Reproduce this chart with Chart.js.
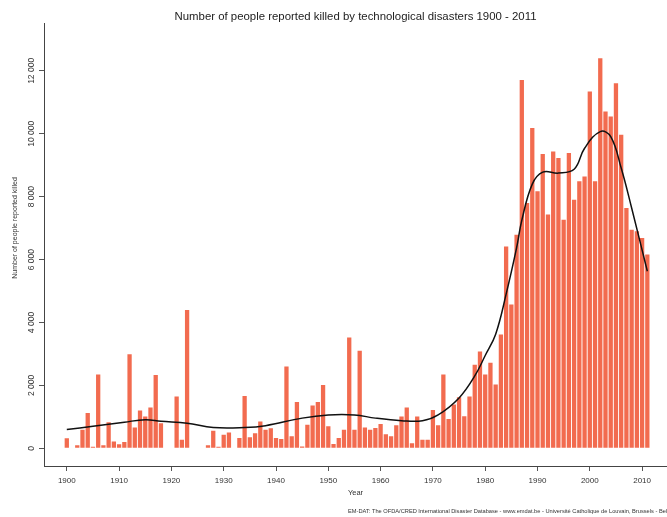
<!DOCTYPE html>
<html>
<head>
<meta charset="utf-8">
<script src="https://cdn.jsdelivr.net/npm/chart.js@4.4.0/dist/chart.umd.min.js"></script>
<style>
  html, body { margin: 0; padding: 0; background: #fff; }
  canvas { display: block; }
</style>
</head>
<body>
<canvas id="chart" width="667" height="517"></canvas>
<script>
// People reported killed by technological disasters, one value per year from 1900
const deaths = [
  320, 0, 100, 590, 1120, 50, 2350, 100, 830, 220,          // 1900s
  130, 200, 2990, 660, 1200, 1010, 1300, 2330, 800, 0,      // 1910s
  0, 1650, 270, 4400, 0, 0, 0, 100, 560, 50,                // 1920s
  430, 500, 0, 325, 1665, 350, 480, 850, 590, 640,          // 1930s
  330, 300, 2600, 380, 1470, 60, 750, 1360, 1470, 2015,     // 1940s
  700, 135, 325, 590, 3520, 590, 3100, 660, 590, 650,       // 1950s
  770, 450, 380, 730, 1010, 1300, 165, 1010, 270, 270,      // 1960s
  1220, 730, 2350, 930, 1390, 1620, 1020, 1650, 2660, 3080, // 1970s
  2350, 2720, 2030, 3620, 6420, 4570, 6790, 11710, 7800, 10180, // 1980s
  8170, 9360, 7430, 9440, 9230, 7270, 9390, 7900, 8490, 8640,   // 1990s
  11340, 8490, 12400, 10710, 10550, 11610, 9970, 7640, 6950, 6900, // 2000s
  6690, 6160                                                // 2010-2011
];
const firstYear = 1900;
const years = deaths.map((_, i) => firstYear + i);

// Smoothed trend through the yearly totals
const trendYears  = [1900, 1905, 1911, 1915, 1918, 1923, 1928, 1934, 1938, 1945, 1950, 1955, 1959, 1964, 1968, 1971, 1975, 1978, 1980, 1982, 1984, 1986, 1987, 1989, 1991, 1994, 1997, 1999, 2002, 2004, 2006, 2008, 2011];
const trendValues = [ 600,  700,  830,  910,  860,  800,  660,  660,  720,  960, 1060, 1060,  960,  880,  876, 1060, 1600, 2300, 2950, 3630, 4900, 6370, 7250, 8400, 8780, 8750, 8870, 9540, 10070, 9910, 8910, 7640, 5630];

const xTicks = [1900, 1910, 1920, 1930, 1940, 1950, 1960, 1970, 1980, 1990, 2000, 2010];
const yTicks = [0, 2000, 4000, 6000, 8000, 10000, 12000];
const yTickLabels = ['0', '2 000', '4 000', '6 000', '8 000', '10 000', '12 000'];

const titleText = 'Number of people reported killed by technological disasters 1900 - 2011';
const yTitle = 'Number of people reported killed';
const xTitle = 'Year';
const sourceText = 'EM-DAT: The OFDA/CRED International Disaster Database - www.emdat.be - Université Catholique de Louvain, Brussels - Belgium';

const FONT = '"Liberation Sans", Arial, Helvetica, sans-serif';

// Rotated y tick labels, axis titles and source line
const axisText = {
  id: 'axisText',
  afterDraw(chart) {
    const { ctx, chartArea, scales: { y } } = chart;
    ctx.save();
    ctx.fillStyle = '#333';
    ctx.textAlign = 'center';
    ctx.textBaseline = 'middle';
    ctx.font = `8.5px ${FONT}`;
    yTicks.forEach((v, i) => {
      ctx.save();
      ctx.translate(32, y.getPixelForValue(v));
      ctx.rotate(-Math.PI / 2);
      ctx.fillText(yTickLabels[i], 0, 0);
      ctx.restore();
    });
    ctx.font = `7px ${FONT}`;
    ctx.save();
    ctx.translate(15, 228);
    ctx.rotate(-Math.PI / 2);
    ctx.fillText(yTitle, 0, 0);
    ctx.restore();
    ctx.font = `7.5px ${FONT}`;
    ctx.fillText(xTitle, (chartArea.left + chartArea.right) / 2, 493);
    ctx.font = `5.7px ${FONT}`;
    ctx.textAlign = 'left';
    ctx.fillText(sourceText, 348, 511);
    ctx.restore();
  }
};

new Chart(document.getElementById('chart'), {
  type: 'bar',
  data: {
    datasets: [
      {
        type: 'line',
        data: trendYears.map((x, i) => ({ x, y: trendValues[i] })),
        borderColor: '#111',
        borderWidth: 1.5,
        pointRadius: 0,
        tension: 0.4,
        fill: false,
        order: 0
      },
      {
        type: 'bar',
        data: years.map((x, i) => ({ x, y: deaths[i] })),
        backgroundColor: '#F26B4F',
        borderWidth: 0,
        barPercentage: 0.82,
        categoryPercentage: 1,
        order: 1
      }
    ]
  },
  options: {
    responsive: false,
    animation: false,
    layout: { padding: 0 },
    plugins: {
      legend: { display: false },
      tooltip: { enabled: false },
      title: {
        display: true,
        text: titleText,
        fullSize: false,
        color: '#222',
        font: { family: FONT, size: 11.4, weight: 'normal' },
        padding: { top: 10, bottom: 0 }
      }
    },
    scales: {
      x: {
        type: 'linear',
        min: 1895.64,
        max: 2014.76,
        offset: false,
        afterBuildTicks: s => { s.ticks = xTicks.map(v => ({ value: v })); },
        afterFit: s => { s.height = 51; },
        grid: { offset: false, drawOnChartArea: false, drawTicks: true, tickLength: 5, color: '#555' },
        border: { display: true, color: '#444', width: 1 },
        ticks: {
          font: { family: FONT, size: 8 },
          color: '#333',
          padding: 5,
          maxRotation: 0,
          autoSkip: false,
          callback: v => String(v)
        }
      },
      y: {
        type: 'linear',
        min: -562,
        max: 13500,
        afterBuildTicks: s => { s.ticks = yTicks.map(v => ({ value: v })); },
        afterFit: s => { s.width = 44; },
        grid: { drawOnChartArea: false, drawTicks: true, tickLength: 5, color: '#555' },
        border: { display: true, color: '#444', width: 1 },
        ticks: { display: false }
      }
    }
  },
  plugins: [axisText]
});
</script>
</body>
</html>
